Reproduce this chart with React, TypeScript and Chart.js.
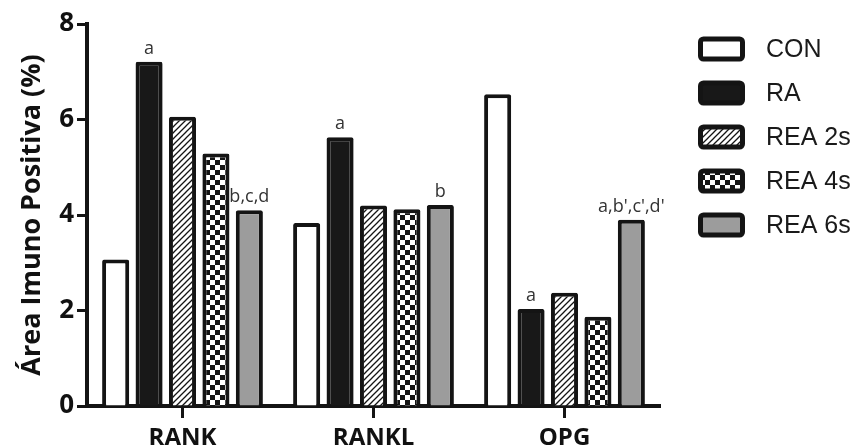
import React, { useEffect, useRef } from 'react';
import { Chart, registerables } from 'chart.js';

Chart.register(...registerables);

const categories = ['RANK', 'RANKL', 'OPG'];
const seriesNames = ['CON', 'RA', 'REA 2s', 'REA 4s', 'REA 6s'];
const conValues = [3.07, 3.83, 6.53];
const raValues = [7.21, 5.63, 2.03];
const rea2sValues = [6.06, 4.2, 2.37];
const rea4sValues = [5.29, 4.12, 1.87];
const rea6sValues = [4.1, 4.21, 3.9];
const conLabels = ['', '', ''];
const raLabels = ['a', 'a', 'a'];
const rea2sLabels = ['', '', ''];
const rea4sLabels = ['', '', ''];
const rea6sLabels = ['b,c,d', 'b', "a,b',c',d'"];
const yTicks = [0, 2, 4, 6, 8];
const yTitle = 'Área Imuno Positiva (%)';

const INK = '#141414';

function makeHatch(ctx: CanvasRenderingContext2D) {
  const s = 6;
  const c = document.createElement('canvas');
  c.width = s;
  c.height = s;
  const g = c.getContext('2d')!;
  g.fillStyle = '#ffffff';
  g.fillRect(0, 0, s, s);
  g.strokeStyle = INK;
  g.lineWidth = 1.3;
  g.beginPath();
  g.moveTo(-1, s + 1); g.lineTo(s + 1, -1);
  g.moveTo(-1, 1); g.lineTo(1, -1);
  g.moveTo(s - 1, s + 1); g.lineTo(s + 1, s - 1);
  g.stroke();
  return ctx.createPattern(c, 'repeat')!;
}

function makeChecker(ctx: CanvasRenderingContext2D) {
  const s = 10;
  const c = document.createElement('canvas');
  c.width = s;
  c.height = s;
  const g = c.getContext('2d')!;
  g.fillStyle = INK;
  g.fillRect(0, 0, s, s);
  g.fillStyle = '#ffffff';
  g.fillRect(0, 0, s / 2, s / 2);
  g.fillRect(s / 2, s / 2, s / 2, s / 2);
  return ctx.createPattern(c, 'repeat')!;
}

export default function App() {
  const ref = useRef<HTMLCanvasElement | null>(null);

  useEffect(() => {
    const canvas = ref.current!;
    const ctx = canvas.getContext('2d')!;
    const hatch = makeHatch(ctx);
    const checker = makeChecker(ctx);

    const valueSets = [conValues, raValues, rea2sValues, rea4sValues, rea6sValues];
    const labelSets = [conLabels, raLabels, rea2sLabels, rea4sLabels, rea6sLabels];
    const fills: any[] = ['#ffffff', '#181818', hatch, checker, '#9c9c9c'];

    const datasets = seriesNames.map((name, i) => ({
      label: name,
      data: valueSets[i],
      backgroundColor: fills[i],
      borderColor: INK,
      borderWidth: 4,
      borderRadius: 2,
      borderSkipped: 'start' as const,
      barPercentage: 0.81,
      categoryPercentage: 0.875,
    }));

    const annotationPlugin = {
      id: 'barAnnotations',
      afterDatasetsDraw(chart: any) {
        const c = chart.ctx;
        c.save();
        c.font = '18px "Open Sans"';
        c.fillStyle = '#333333';
        c.textAlign = 'center';
        c.textBaseline = 'alphabetic';
        labelSets.forEach((labels, di) => {
          const meta = chart.getDatasetMeta(di);
          labels.forEach((txt, i) => {
            if (!txt) return;
            const el = meta.data[i];
            c.fillText(txt, el.x, el.y - 8);
          });
        });
        c.restore();
      },
    };

    const legendPlugin = {
      id: 'customLegend',
      afterDraw(chart: any) {
        const c = chart.ctx;
        c.save();
        chart.data.datasets.forEach((ds: any, i: number) => {
          const x = 698;
          const y = 36.5 + i * 44;
          const w = 47;
          const h = 25;
          c.beginPath();
          c.roundRect(x + 2.5, y + 2.5, w - 5, h - 5, 3);
          c.fillStyle = ds.backgroundColor;
          c.fill();
          c.lineWidth = 5;
          c.strokeStyle = INK;
          c.stroke();
          c.fillStyle = '#1a1a1a';
          c.font = '25px "Liberation Sans"';
          c.textAlign = 'left';
          c.textBaseline = 'middle';
          c.fillText(ds.label, 766, y + h / 2 + 1);
        });
        c.restore();
      },
    };

    const chart = new Chart(canvas, {
      type: 'bar',
      data: { labels: categories, datasets },
      plugins: [annotationPlugin, legendPlugin],
      options: {
        animation: false,
        responsive: false,
        devicePixelRatio: 1,
        layout: { padding: { top: 24, right: 202, left: 0, bottom: 0 } },
        plugins: {
          legend: { display: false },
          tooltip: { enabled: false },
        },
        scales: {
          x: {
            type: 'category',
            offset: true,
            grid: {
              display: true,
              drawOnChartArea: false,
              drawTicks: true,
              offset: false,
              tickLength: 12,
              tickWidth: 3,
              tickColor: INK,
              color: INK,
            },
            border: { display: true, color: INK, width: 4 },
            ticks: {
              color: '#111111',
              font: { family: 'Open Sans', weight: 'bold', size: 24 },
              padding: 6,
            },
            afterFit: (s: any) => {
              s.height = 41;
            },
          },
          y: {
            min: 0,
            max: 8,
            afterBuildTicks: (s: any) => {
              s.ticks = yTicks.map((v) => ({ value: v }));
            },
            grid: {
              display: true,
              drawOnChartArea: false,
              drawTicks: true,
              tickLength: 10,
              tickWidth: 3,
              tickColor: INK,
              color: INK,
            },
            border: { display: true, color: INK, width: 4 },
            ticks: {
              color: '#111111',
              font: { family: 'Open Sans', weight: 'bold', size: 26 },
              padding: 3,
            },
            title: {
              display: true,
              text: yTitle,
              color: '#111111',
              font: { family: 'Open Sans', weight: 'bold', size: 27 },
              padding: { top: 16, bottom: 0 },
            },
            afterFit: (s: any) => {
              s.width = 87;
            },
          },
        },
      },
    } as any);

    return () => chart.destroy();
  }, []);

  return (
    <div style={{ position: 'fixed', left: 0, top: 0, width: 862, height: 447, background: '#ffffff' }}>
      <canvas ref={ref} width={862} height={447} style={{ width: 862, height: 447, display: 'block' }} />
    </div>
  );
}
